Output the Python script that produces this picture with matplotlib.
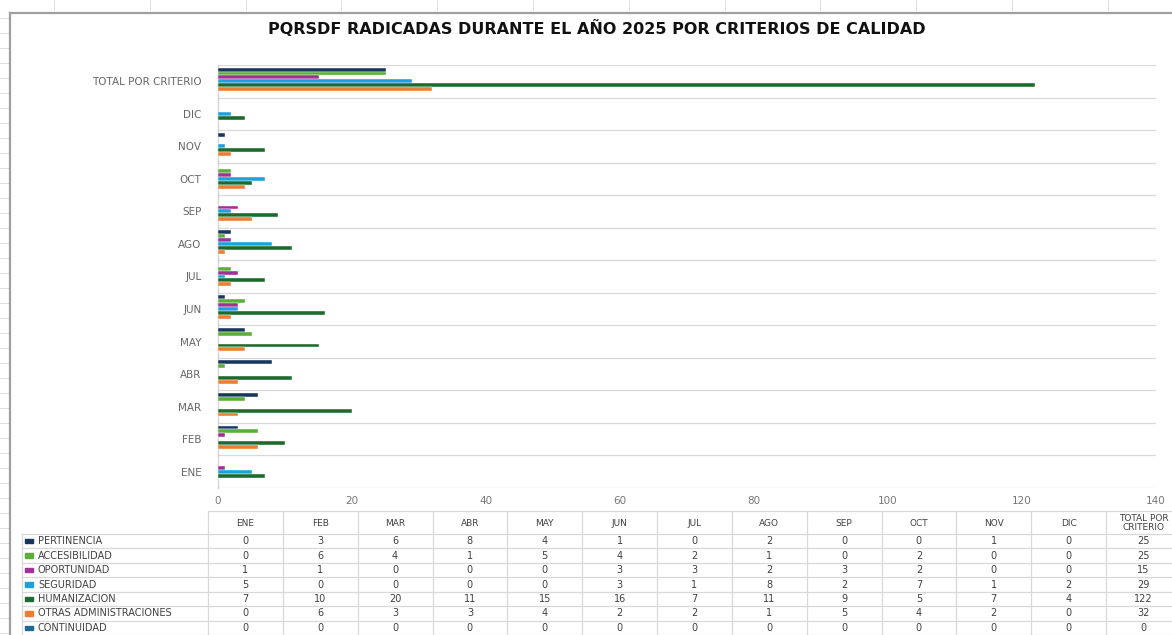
import matplotlib
matplotlib.use("Agg")
import matplotlib.pyplot as plt
import numpy as np

months = ["ENE", "FEB", "MAR", "ABR", "MAY", "JUN", "JUL", "AGO", "SEP", "OCT", "NOV", "DIC"]
total_label = "TOTAL POR CRITERIO"
series_names = ["PERTINENCIA", "ACCESIBILIDAD", "OPORTUNIDAD", "SEGURIDAD",
                "HUMANIZACION", "OTRAS ADMINISTRACIONES", "CONTINUIDAD"]
pertinencia = [0, 3, 6, 8, 4, 1, 0, 2, 0, 0, 1, 0]
accesibilidad = [0, 6, 4, 1, 5, 4, 2, 1, 0, 2, 0, 0]
oportunidad = [1, 1, 0, 0, 0, 3, 3, 2, 3, 2, 0, 0]
seguridad = [5, 0, 0, 0, 0, 3, 1, 8, 2, 7, 1, 2]
humanizacion = [7, 10, 20, 11, 15, 16, 7, 11, 9, 5, 7, 4]
otras = [0, 6, 3, 3, 4, 2, 2, 1, 5, 4, 2, 0]
continuidad = [0, 0, 0, 0, 0, 0, 0, 0, 0, 0, 0, 0]
totals = [25, 25, 15, 29, 122, 32, 0]
x_ticks = [0, 20, 40, 60, 80, 100, 120, 140]
title = "PQRSDF RADICADAS DURANTE EL AÑO 2025 POR CRITERIOS DE CALIDAD"

colors = ["#17375E", "#5BAE3B", "#A0309A", "#1BA1DB", "#1D6B2C", "#ED7D31", "#1F6A94"]
series = [pertinencia, accesibilidad, oportunidad, seguridad, humanizacion, otras, continuidad]

W, H = 1172, 635
fig = plt.figure(figsize=(W / 100, H / 100), dpi=100)

# background overlay axes in pixel coordinates (frame + table)
bg = fig.add_axes([0, 0, 1, 1])
bg.set_xlim(0, W)
bg.set_ylim(H, 0)
bg.axis("off")

# spreadsheet ticks and chart border
for xk in np.arange(54, W, 95.8):
    bg.plot([xk, xk], [0, 10], color="#E0E0E0", lw=0.7)
for yk in np.arange(18, H, 15):
    bg.plot([0, 8], [yk, yk], color="#E0E0E0", lw=0.7)
bg.plot([10, W], [13, 13], color="#A0A0A0", lw=1.6)
bg.plot([10, 10], [13, H], color="#A0A0A0", lw=1.6)

# main chart axes
left, right = 218, 1156
top, bottom = 65, 488
ax = fig.add_axes([left / W, (H - bottom) / H, (right - left) / W, (bottom - top) / H])
cats = months + [total_label]
n = len(cats)
ypos = np.arange(n)
nser = len(series)
slot = 0.84 / nser
for i, (name, vals, c) in enumerate(zip(series_names, series, colors)):
    data = list(vals) + [totals[i]]
    off = (nser - 1) / 2 * slot - i * slot
    ax.barh(ypos + off, data, height=slot, color=c, edgecolor="white", linewidth=0.3, zorder=3)

ax.set_xlim(0, 140)
ax.set_ylim(-0.5, n - 0.5)
ax.set_yticks(ypos)
ax.set_yticklabels(cats, fontsize=7.5, color="#666666")
ax.set_xticks(x_ticks)
ax.set_xticklabels([str(t) for t in x_ticks], fontsize=7.5, color="#777777")
ax.tick_params(axis="both", length=0)
ax.tick_params(axis="y", pad=12)
ax.tick_params(axis="x", pad=6)
for b in np.arange(-0.5, n, 1.0):
    ax.axhline(b, color="#D9D9D9", lw=0.9, zorder=1)
for s in ["top", "right", "bottom"]:
    ax.spines[s].set_visible(False)
ax.spines["left"].set_color("#D0D0D0")
ax.spines["left"].set_linewidth(1.0)

fig.text(597 / W, 1 - 28 / H, title, ha="center", va="center", fontsize=11.5,
         fontweight="bold", color="#111111")

# data table
grid_c = "#D9D9D9"
col0 = 208
colw = (1106 - 208) / 12
header_top, header_bot = 511, 534
row_h = (635 - 534) / 7
ncols = 13
bg.plot([col0, W], [header_top, header_top], color=grid_c, lw=0.9)
for k in range(ncols + 1):
    xk = col0 + k * colw
    bg.plot([xk, xk], [header_top, H], color=grid_c, lw=0.9)
bg.plot([22, W], [header_bot, header_bot], color=grid_c, lw=0.9)
bg.plot([22, 22], [header_bot, H], color=grid_c, lw=0.9)
for r in range(1, 8):
    yr = header_bot + r * row_h
    bg.plot([22, W], [yr, yr], color=grid_c, lw=0.9)
headers = months + ["TOTAL POR\nCRITERIO"]
for k, h in enumerate(headers):
    xc = col0 + (k + 0.5) * colw
    bg.text(xc, (header_top + header_bot) / 2 + 0.5, h, ha="center", va="center",
            fontsize=6.5, color="#404040", linespacing=1.1)
for r, (name, vals, c) in enumerate(zip(series_names, series, colors)):
    yc = header_bot + (r + 0.5) * row_h
    bg.add_patch(plt.Rectangle((25, yc - 2.2), 8, 4.4, color=c))
    bg.text(38, yc, name, ha="left", va="center", fontsize=7, color="#404040")
    rowvals = list(vals) + [totals[r]]
    for k, v in enumerate(rowvals):
        xc = col0 + (k + 0.5) * colw
        bg.text(xc, yc, str(v), ha="center", va="center", fontsize=7, color="#404040")

fig.savefig("out.png", dpi=100)
